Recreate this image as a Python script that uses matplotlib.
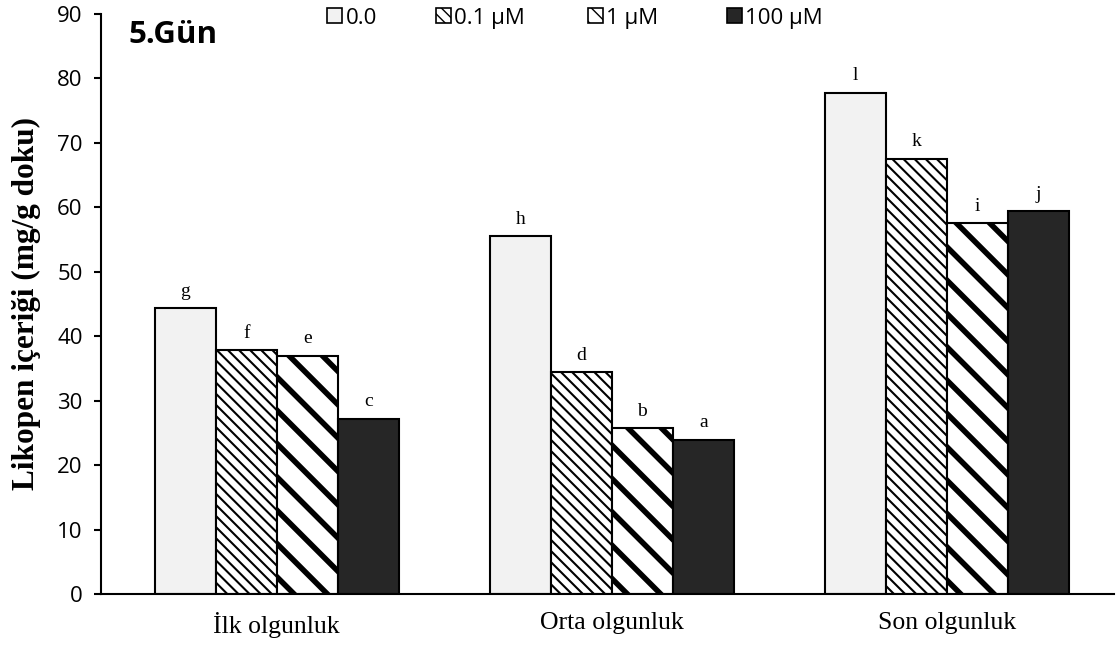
import numpy as np
import matplotlib.pyplot as plt
import matplotlib.patches as mpatches

# data
groups = ['İlk olgunluk', 'Orta olgunluk', 'Son olgunluk']
series = ['0.0', '0.1 µM', '1 µM', '100 µM']
v_00 = [44.3, 55.5, 77.8]
v_01 = [37.8, 34.4, 67.5]
v_1 = [37.0, 25.7, 57.5]
v_100 = [27.2, 23.9, 59.4]
letters = [['g', 'h', 'l'], ['f', 'd', 'k'], ['e', 'b', 'i'], ['c', 'a', 'j']]
y_ticks = [0, 10, 20, 30, 40, 50, 60, 70, 80, 90]

values = [v_00, v_01, v_1, v_100]
fills = ['#f2f2f2', 'white', 'white', '#262626']
hatches = [None, '\\\\\\', '\\', None]
hatch_lw = [1.0, 1.5, 4.0, 1.0]
# the legend swatches are small, so the wide stripe gets a denser pattern there
legend_hatches = [None, '\\\\\\', '\\\\', None]
legend_hatch_lw = [1.0, 1.2, 2.5, 1.0]
# legend entries are spread unevenly (Excel style), left edges in figure coords
legend_x = [0.292, 0.389, 0.525, 0.649]

fig = plt.figure(figsize=(11.2, 6.46), dpi=100)
ax = fig.add_axes([0.09, 0.0805, 0.905, 0.898])

x = np.arange(len(groups))
w = 0.182
handles = []
for i, (vals, name) in enumerate(zip(values, series)):
    with plt.rc_context({'hatch.linewidth': hatch_lw[i]}):
        bars = ax.bar(x + (i - 1.5) * w, vals, w, color=fills[i], edgecolor='black',
                      linewidth=1.5, hatch=hatches[i], label=name, zorder=2)
        for b in bars:
            if hasattr(b, 'set_hatch_linewidth'):
                b.set_hatch_linewidth(hatch_lw[i])
    with plt.rc_context({'hatch.linewidth': legend_hatch_lw[i]}):
        h = mpatches.Patch(facecolor=fills[i], edgecolor='black', linewidth=1.2,
                           hatch=legend_hatches[i])
        if hasattr(h, 'set_hatch_linewidth'):
            h.set_hatch_linewidth(legend_hatch_lw[i])
    handles.append(h)
    for b, lab in zip(bars, letters[i]):
        ax.annotate(lab, (b.get_x() + b.get_width() / 2, b.get_height()),
                    xytext=(0, 9), textcoords='offset points', ha='center', va='baseline',
                    fontsize=14, family='Liberation Serif')

ax.set_xlim(-0.525, 2.5)
ax.set_ylim(0, 90)
ax.set_yticks(y_ticks)
ax.set_xticks(x)
ax.set_xticklabels(groups, family='Liberation Serif', fontsize=18.5)
ax.tick_params(axis='x', length=0, pad=13)
ax.tick_params(axis='y', length=5, width=1.5, labelsize=16, pad=8)
for t in ax.get_yticklabels():
    t.set_family('Open Sans')
ax.spines['top'].set_visible(False)
ax.spines['right'].set_visible(False)
ax.spines['left'].set_linewidth(1.5)
ax.spines['bottom'].set_linewidth(1.5)
ax.set_ylabel('Likopen içeriği (mg/g doku)', family='Liberation Serif', fontweight='bold',
              fontsize=22.5, labelpad=12)

ax.text(0.027, 0.99, '5.Gün', transform=ax.transAxes, fontsize=22.5, fontweight='bold',
        family='Open Sans', va='top', ha='left')

for h, name, lx in zip(handles, series, legend_x):
    fig.legend(handles=[h], labels=[name], loc='center left', bbox_to_anchor=(lx, 0.972),
               frameon=False, prop={'family': 'Open Sans', 'size': 16},
               handlelength=0.68, handleheight=0.68, handletextpad=0.15,
               borderpad=0, borderaxespad=0)

fig.savefig('out.png', dpi=100)
